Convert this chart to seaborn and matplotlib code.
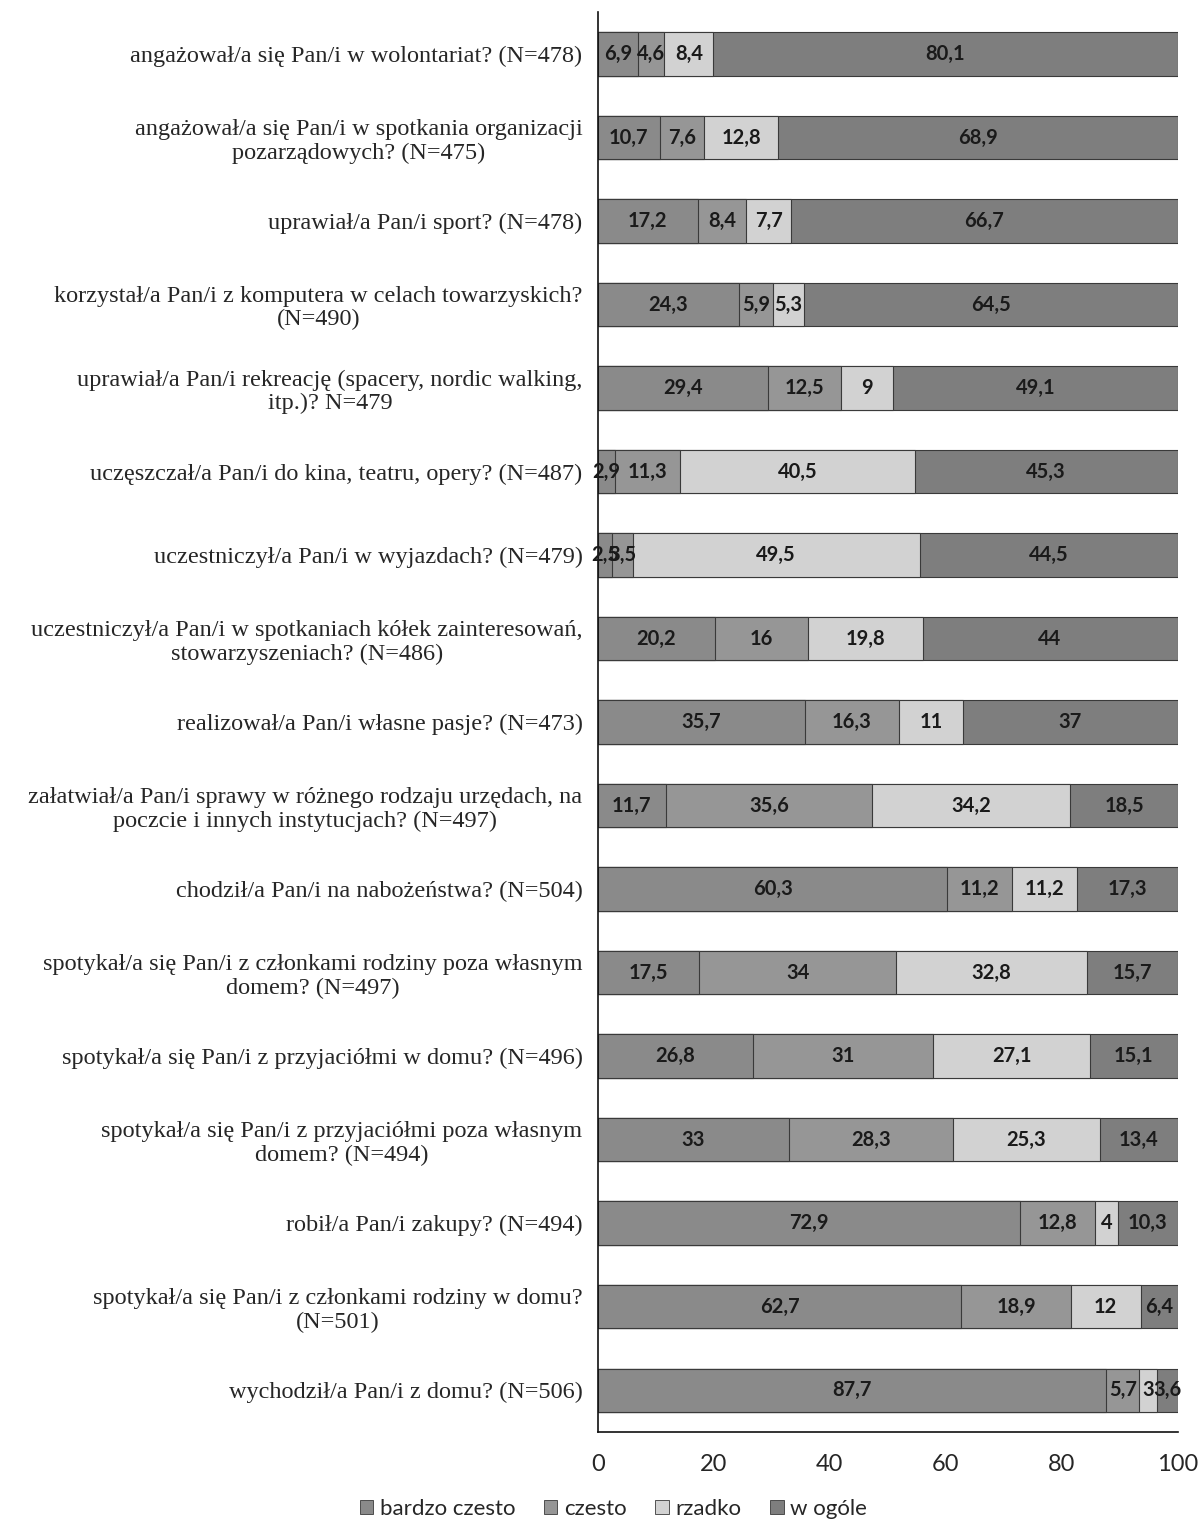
#!/usr/bin/env python3
import matplotlib
matplotlib.use("Agg")
import matplotlib.pyplot as plt
import numpy as np
import pandas as pd
import seaborn as sns

QUESTIONS = [
    "angażował/a się Pan/i w wolontariat? (N=478)",
    "angażował/a się Pan/i w spotkania organizacji\npozarządowych? (N=475)",
    "uprawiał/a Pan/i sport? (N=478)",
    "korzystał/a Pan/i z komputera w celach towarzyskich?\n(N=490)",
    "uprawiał/a Pan/i rekreację (spacery, nordic walking,\nitp.)? N=479",
    "uczęszczał/a Pan/i do kina, teatru, opery? (N=487)",
    "uczestniczył/a Pan/i w wyjazdach? (N=479)",
    "uczestniczył/a Pan/i w spotkaniach kółek zainteresowań,\nstowarzyszeniach? (N=486)",
    "realizował/a Pan/i własne pasje? (N=473)",
    "załatwiał/a Pan/i sprawy w różnego rodzaju urzędach, na\npoczcie i innych instytucjach? (N=497)",
    "chodził/a Pan/i na nabożeństwa? (N=504)",
    "spotykał/a się Pan/i z członkami rodziny poza własnym\ndomem? (N=497)",
    "spotykał/a się Pan/i z przyjaciółmi w domu? (N=496)",
    "spotykał/a się Pan/i z przyjaciółmi poza własnym\ndomem? (N=494)",
    "robił/a Pan/i zakupy? (N=494)",
    "spotykał/a się Pan/i z członkami rodziny w domu?\n(N=501)",
    "wychodził/a Pan/i z domu? (N=506)",
]

BARDZO_CZESTO = [6.9, 10.7, 17.2, 24.3, 29.4, 2.9, 2.5, 20.2, 35.7, 11.7, 60.3, 17.5, 26.8, 33, 72.9, 62.7, 87.7]
CZESTO = [4.6, 7.6, 8.4, 5.9, 12.5, 11.3, 3.5, 16, 16.3, 35.6, 11.2, 34, 31, 28.3, 12.8, 18.9, 5.7]
RZADKO = [8.4, 12.8, 7.7, 5.3, 9, 40.5, 49.5, 19.8, 11, 34.2, 11.2, 32.8, 27.1, 25.3, 4, 12, 3]
W_OGOLE = [80.1, 68.9, 66.7, 64.5, 49.1, 45.3, 44.5, 44, 37, 18.5, 17.3, 15.7, 15.1, 13.4, 10.3, 6.4, 3.6]

SERIES = ["bardzo czesto", "czesto", "rzadko", "w ogóle"]
COLORS = ["#8a8a8a", "#969696", "#d2d2d2", "#7e7e7e"]
XTICKS = [0, 20, 40, 60, 80, 100]
SANS = ["Lato", "DejaVu Sans"]


def main() -> None:
    sns.set_theme(style="white")
    plt.rcParams["font.family"] = ["Liberation Serif", "DejaVu Serif"]

    df = pd.DataFrame(
        {"q": QUESTIONS, SERIES[0]: BARDZO_CZESTO, SERIES[1]: CZESTO,
         SERIES[2]: RZADKO, SERIES[3]: W_OGOLE}
    )
    vals = df[SERIES].to_numpy()
    cum = np.cumsum(vals, axis=1)

    fig = plt.figure(figsize=(11.98, 15.26), dpi=100)
    ax = fig.add_axes([0.499, 0.0616, 0.484, 0.9304])

    # draw cumulative totals back to front so each segment shows
    for i in range(3, -1, -1):
        sns.barplot(x=cum[:, i], y=df["q"], orient="h", color=COLORS[i],
                    width=0.52, edgecolor="#3a3a3a", linewidth=0.8,
                    saturation=1, ax=ax)

    for r in range(len(QUESTIONS)):
        for i in range(4):
            v = vals[r, i]
            x = cum[r, i] - v / 2
            txt = f"{v:g}".replace(".", ",")
            ax.text(x, r, txt, ha="center", va="center", fontsize=14.5,
                    weight="bold", color="#1a1a1a", family=SANS)

    ax.set_xlim(0, 100)
    ax.set_ylim(len(QUESTIONS) - 0.5, -0.5)
    ax.set_xticks(XTICKS)
    ax.set_xticklabels([str(t) for t in XTICKS], family=SANS, fontsize=17)
    ax.tick_params(axis="x", length=0, pad=16)
    ax.tick_params(axis="y", length=0, pad=11, labelsize=17.5)
    for lab in ax.get_yticklabels():
        lab.set_multialignment("center")
        lab.set_linespacing(1.15)
    ax.set_xlabel("")
    ax.set_ylabel("")
    ax.grid(False)
    for s in ["top", "right"]:
        ax.spines[s].set_visible(False)
    for s in ["left", "bottom"]:
        ax.spines[s].set_color("#111111")
        ax.spines[s].set_linewidth(1.2)

    handles = [plt.Rectangle((0, 0), 1, 1, fc=c, ec="#3a3a3a", lw=0.6) for c in COLORS]
    fig.legend(handles, SERIES, loc="center", bbox_to_anchor=(0.512, 0.011), ncol=4,
               frameon=False, handlelength=0.6, handleheight=0.6, handletextpad=0.3,
               columnspacing=1.3, prop={"family": SANS, "size": 16})

    fig.savefig("out.png", dpi=100)
    plt.close(fig)


if __name__ == "__main__":
    main()
